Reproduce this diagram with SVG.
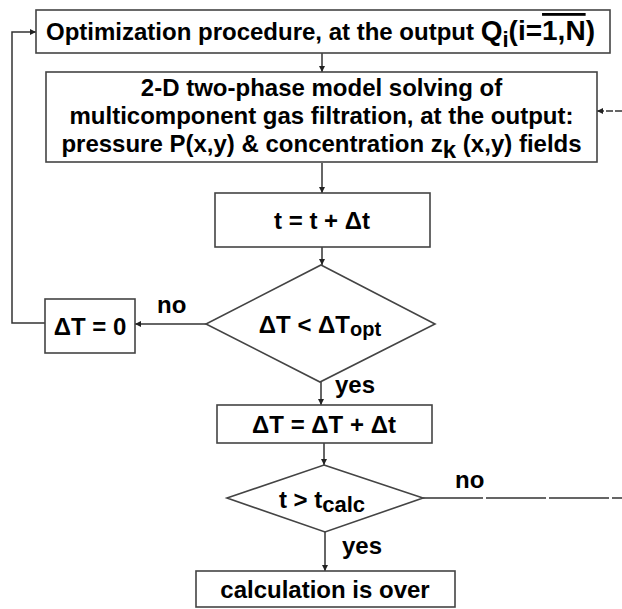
<svg xmlns="http://www.w3.org/2000/svg" width="622" height="609" viewBox="0 0 622 609">
<style>
.box{fill:#fff;stroke:#444;stroke-width:1.6}
.ln{fill:none;stroke:#333;stroke-width:1.5}
.t{font-family:"Liberation Sans",Arial,sans-serif;font-weight:bold;font-size:24px;fill:#000}
.m{text-anchor:middle}
</style>
<defs>
<marker id="ah" viewBox="0 0 10 10" refX="10" refY="5" markerWidth="6" markerHeight="6" markerUnits="userSpaceOnUse" orient="auto">
<path d="M0,0 L10,5 L0,10 z" fill="#222"/>
</marker>
</defs>
<rect width="622" height="609" fill="#fff"/>
<g id="connectors">
<line class="ln" x1="322" y1="53" x2="322" y2="72" marker-end="url(#ah)"/>
<line class="ln" x1="622" y1="111" x2="597" y2="111" stroke-dasharray="7 2" marker-end="url(#ah)"/>
<line class="ln" x1="322" y1="163" x2="322" y2="193" marker-end="url(#ah)"/>
<line class="ln" x1="322" y1="247" x2="322" y2="265" marker-end="url(#ah)"/>
<line class="ln" x1="206" y1="324" x2="135" y2="324" marker-end="url(#ah)"/>
<polyline class="ln" points="45,323 12,323 12,32 36,32" marker-end="url(#ah)"/>
<line class="ln" x1="321" y1="382" x2="321" y2="405" marker-end="url(#ah)"/>
<line class="ln" x1="324" y1="443" x2="324" y2="465" marker-end="url(#ah)"/>
<line class="ln" x1="423" y1="498" x2="622" y2="498" stroke-dasharray="60 3"/>
<line class="ln" x1="325" y1="532" x2="325" y2="571" marker-end="url(#ah)"/>
<text class="t" x="157" y="313">no</text>
<text class="t" x="335" y="393">yes</text>
<text class="t" x="455" y="488">no</text>
<text class="t" x="342" y="554">yes</text>
</g>
<g id="n1">
<rect class="box" x="36" y="10" width="574" height="43"/>
<text class="t" x="46" y="40">Optimization procedure, at the output <tspan font-size="28">Q</tspan><tspan font-size="22" dy="7">i</tspan><tspan dy="-7" font-size="28">(i=</tspan><tspan font-size="28" text-decoration="overline">1,N</tspan><tspan font-size="28">)</tspan></text>
</g>
<g id="n2">
<rect class="box" x="46" y="72" width="551" height="90"/>
<text class="t m" x="321.5" y="96">2-D two-phase model solving of</text>
<text class="t m" x="321.5" y="124">multicomponent gas filtration, at the output:</text>
<text class="t m" x="321.5" y="152">pressure P(x,y) &amp; concentration z<tspan dy="6">k</tspan><tspan dy="-6"> (x,y) fields</tspan></text>
</g>
<g id="n3">
<rect class="box" x="215" y="193" width="215" height="54"/>
<text class="t m" x="322" y="229">t = t + Δt</text>
</g>
<g id="n4">
<polygon class="box" points="321,265 435,324 320,382 206,324"/>
<text class="t m" x="320" y="333">ΔT &lt; ΔT<tspan font-size="20" dy="3">opt</tspan></text>
</g>
<g id="n5">
<rect class="box" x="45" y="299" width="90" height="54"/>
<text class="t m" x="90" y="335">ΔT = 0</text>
</g>
<g id="n6">
<rect class="box" x="217" y="405" width="215" height="38"/>
<text class="t m" x="324" y="433">ΔT = ΔT + Δt</text>
</g>
<g id="n7">
<polygon class="box" points="324,465 423,498 325,532 227,498"/>
<text class="t m" x="322" y="508">t &gt; t<tspan font-size="22" dy="4">calc</tspan></text>
</g>
<g id="n8">
<rect class="box" x="196" y="571" width="259" height="36"/>
<text class="t m" x="325" y="598">calculation is over</text>
</g>
</svg>
